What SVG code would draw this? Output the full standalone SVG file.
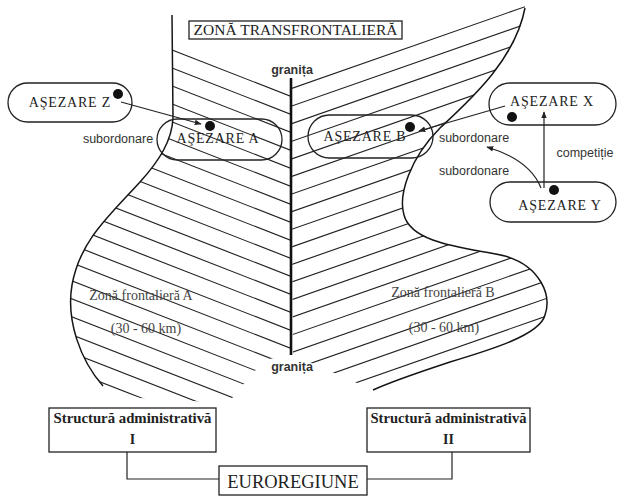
<svg xmlns="http://www.w3.org/2000/svg" width="618" height="499" viewBox="0 0 618 499">
  <defs>
    <style>
      .outline{fill:none;stroke:#151515;stroke-width:1.5}
      .hatch line{stroke:#222;stroke-width:1.15}
      .border{stroke:#111;stroke-width:2.6}
      .pill{fill:none;stroke:#222;stroke-width:1.3}
      .box{fill:none;stroke:#222;stroke-width:1.3}
      .dot{fill:#111}
      .conn{fill:none;stroke:#222;stroke-width:1.2}
      .serif{font-family:"Liberation Serif","DejaVu Serif",serif;fill:#222}
      .sans{font-family:"Liberation Sans","DejaVu Sans",sans-serif;fill:#333;font-size:12.5px}
      .zone{font-family:"Liberation Serif","DejaVu Serif",serif;fill:#444;font-size:14px}
    </style>
    <marker id="arr" viewBox="0 0 10 10" refX="9" refY="5" markerWidth="7" markerHeight="7" orient="auto-start-reverse" markerUnits="userSpaceOnUse">
      <path d="M0,1 L10,5 L0,9 Z" fill="#222"/>
    </marker>
    <clipPath id="clipA">
      <path d="M172,47 L291,93.4 L291,355 L264,360 L228,403 L140,398 L103,386 C80,360 66,320 72,285 C80,240 110,215 140,182 C160,160 172,140 173,118 Z"/>
    </clipPath>
    <clipPath id="clipB">
      <path d="M291,85 L525,3 L525,10 C515,60 470,100 440,128 C410,158 398,195 404,215 C412,245 470,248 505,256 C540,266 552,295 545,315 C540,335 490,350 450,362 C420,372 395,380 373,390 L293,355 Z"/>
    </clipPath>
  </defs>

  <!-- frontier zone A: hatching and outline -->
  <g id="zone-a">
    <g class="hatch" clip-path="url(#clipA)">
      <line x1="60" y1="6.3" x2="291" y2="96.4"/>
      <line x1="60" y1="24.3" x2="291" y2="114.4"/>
      <line x1="60" y1="42.3" x2="291" y2="132.4"/>
      <line x1="60" y1="60.3" x2="291" y2="150.4"/>
      <line x1="60" y1="78.3" x2="291" y2="168.4"/>
      <line x1="60" y1="96.3" x2="291" y2="186.4"/>
      <line x1="60" y1="114.3" x2="291" y2="204.4"/>
      <line x1="60" y1="132.3" x2="291" y2="222.4"/>
      <line x1="60" y1="150.3" x2="291" y2="240.4"/>
      <line x1="60" y1="168.3" x2="291" y2="258.4"/>
      <line x1="60" y1="186.3" x2="291" y2="276.4"/>
      <line x1="60" y1="204.3" x2="291" y2="294.4"/>
      <line x1="60" y1="222.3" x2="291" y2="312.4"/>
      <line x1="60" y1="240.3" x2="291" y2="330.4"/>
      <line x1="60" y1="258.3" x2="291" y2="348.4"/>
      <line x1="60" y1="276.3" x2="291" y2="366.4"/>
      <line x1="60" y1="294.3" x2="291" y2="384.4"/>
      <line x1="60" y1="312.3" x2="291" y2="402.4"/>
      <line x1="60" y1="330.3" x2="291" y2="420.4"/>
      <line x1="60" y1="348.3" x2="291" y2="438.4"/>
      <line x1="60" y1="366.3" x2="291" y2="456.4"/>
    </g>
    <path class="outline" d="M172,15 L173,118 C172,140 160,160 140,182 C110,215 80,240 72,285 C66,320 80,360 103,386"/>
    <text class="zone" x="141" y="300" text-anchor="middle">Zonă frontalieră  A</text>
    <text class="zone" x="146" y="333" text-anchor="middle">(30 - 60 km)</text>
  </g>

  <!-- frontier zone B: hatching and outline -->
  <g id="zone-b">
    <g class="hatch" clip-path="url(#clipB)">
      <line x1="291" y1="88.7" x2="560" y2="-5.5"/>
      <line x1="291" y1="106.3" x2="560" y2="12.1"/>
      <line x1="291" y1="123.9" x2="560" y2="29.7"/>
      <line x1="291" y1="141.5" x2="560" y2="47.3"/>
      <line x1="291" y1="159.1" x2="560" y2="64.9"/>
      <line x1="291" y1="176.7" x2="560" y2="82.5"/>
      <line x1="291" y1="194.3" x2="560" y2="100.1"/>
      <line x1="291" y1="211.9" x2="560" y2="117.7"/>
      <line x1="291" y1="229.5" x2="560" y2="135.3"/>
      <line x1="291" y1="247.1" x2="560" y2="152.9"/>
      <line x1="291" y1="264.7" x2="560" y2="170.5"/>
      <line x1="291" y1="282.3" x2="560" y2="188.1"/>
      <line x1="291" y1="299.9" x2="560" y2="205.7"/>
      <line x1="291" y1="317.5" x2="560" y2="223.3"/>
      <line x1="291" y1="335.1" x2="560" y2="240.9"/>
      <line x1="291" y1="352.7" x2="560" y2="258.5"/>
      <line x1="291" y1="370.3" x2="560" y2="276.1"/>
      <line x1="291" y1="387.9" x2="560" y2="293.7"/>
      <line x1="291" y1="405.5" x2="560" y2="311.3"/>
      <line x1="291" y1="423.1" x2="560" y2="328.9"/>
    </g>
    <path class="outline" d="M525,8 C515,60 470,100 440,128 C410,158 398,195 404,215 C412,245 470,248 505,256 C540,266 552,295 545,315 C540,335 490,350 450,362 C420,372 395,380 373,390"/>
    <text class="zone" x="443" y="297" text-anchor="middle">Zonă frontalieră  B</text>
    <text class="zone" x="444" y="332" text-anchor="middle">(30 - 60 km)</text>
  </g>

  <!-- state border -->
  <g id="border">
    <line class="border" x1="291" y1="78" x2="291" y2="355"/>
    <text class="sans" x="292" y="74" text-anchor="middle" font-weight="bold" fill="#333">granița</text>
    <text class="sans" x="292" y="371" text-anchor="middle" font-weight="bold" fill="#333">granița</text>
  </g>

  <!-- title -->
  <g id="title">
    <rect class="box" x="189" y="21" width="213" height="18"/>
    <text class="serif" x="295.5" y="35" text-anchor="middle" font-size="14.5" textLength="204" lengthAdjust="spacingAndGlyphs">ZONĂ TRANSFRONTALIERĂ</text>
  </g>

  <!-- settlements -->
  <g id="asezare-z">
    <rect class="pill" x="8" y="83" width="124" height="39" rx="19.5"/>
    <text class="serif" x="70" y="107" text-anchor="middle" font-size="14" letter-spacing="0.8">AŞEZARE Z</text>
    <circle class="dot" cx="118" cy="94" r="5"/>
  </g>
  <g id="asezare-a">
    <rect class="pill" x="157" y="119" width="125" height="41" rx="20.5"/>
    <text class="serif" x="218" y="143" text-anchor="middle" font-size="14" letter-spacing="0.8">AŞEZARE  A</text>
    <circle class="dot" cx="210" cy="126" r="5"/>
  </g>
  <g id="asezare-b">
    <rect class="pill" x="308" y="115" width="125" height="43" rx="21.5"/>
    <text class="serif" x="365" y="141" text-anchor="middle" font-size="14" letter-spacing="0.8">AŞEZARE B</text>
    <circle class="dot" cx="410" cy="127" r="5"/>
  </g>
  <g id="asezare-x">
    <rect class="pill" x="489" y="83" width="127" height="42" rx="21"/>
    <text class="serif" x="552" y="106" text-anchor="middle" font-size="14" letter-spacing="0.8">AŞEZARE X</text>
    <circle class="dot" cx="512" cy="117" r="5"/>
  </g>
  <g id="asezare-y">
    <rect class="pill" x="490" y="182" width="126" height="40" rx="20"/>
    <text class="serif" x="560" y="210" text-anchor="middle" font-size="14" letter-spacing="0.8">AŞEZARE Y</text>
    <circle class="dot" cx="554" cy="190" r="5"/>
  </g>

  <!-- administrative structures -->
  <g id="structura-1">
    <rect class="box" x="49" y="408" width="167" height="44"/>
    <text class="serif" x="132.5" y="423" text-anchor="middle" font-size="14" font-weight="bold" textLength="158" lengthAdjust="spacingAndGlyphs">Structură administrativă</text>
    <text class="serif" x="132.5" y="444" text-anchor="middle" font-size="14" font-weight="bold">I</text>
  </g>
  <g id="structura-2">
    <rect class="box" x="367" y="408" width="163" height="44"/>
    <text class="serif" x="448.5" y="423" text-anchor="middle" font-size="14" font-weight="bold" textLength="156" lengthAdjust="spacingAndGlyphs">Structură administrativă</text>
    <text class="serif" x="448.5" y="444" text-anchor="middle" font-size="14" font-weight="bold">II</text>
  </g>
  <g id="euroregiune">
    <rect class="box" x="219" y="466" width="148" height="29"/>
    <text class="serif" x="293" y="488" text-anchor="middle" font-size="18.5">EUROREGIUNE</text>
  </g>

  <!-- connectors and relation labels -->
  <g id="connectors">
    <line class="conn" x1="121" y1="102" x2="201" y2="124" marker-end="url(#arr)"/>
    <line class="conn" x1="505" y1="106" x2="419" y2="131" marker-end="url(#arr)"/>
    <line class="conn" x1="544" y1="188" x2="544" y2="112" marker-end="url(#arr)"/>
    <path class="conn" d="M541,188 Q530,160 487,147" marker-end="url(#arr)"/>
    <polyline class="conn" points="127,452 127,479 219,479"/>
    <polyline class="conn" points="452,452 452,479 367,479"/>
    <text class="sans" x="118" y="143" text-anchor="middle">subordonare</text>
    <text class="sans" x="474" y="142" text-anchor="middle">subordonare</text>
    <text class="sans" x="474" y="175" text-anchor="middle">subordonare</text>
    <text class="sans" x="585" y="157" text-anchor="middle">competiție</text>
  </g>
</svg>
